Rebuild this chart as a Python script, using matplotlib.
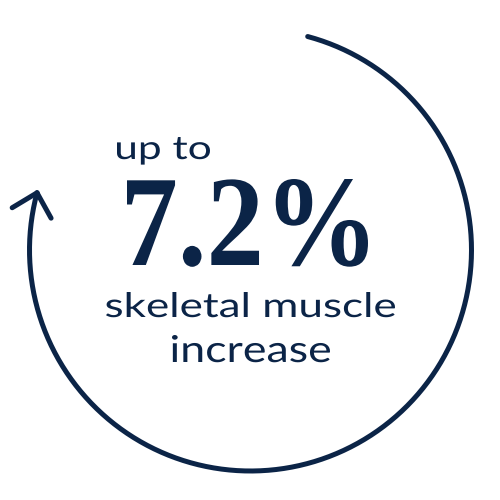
import numpy as np
import matplotlib.pyplot as plt
from matplotlib.textpath import TextPath
from matplotlib.patches import PathPatch
from matplotlib.font_manager import FontProperties
from matplotlib.transforms import Affine2D

# text content
top_label = "up to"
value_label = "7.2%"
bottom_lines = ["skeletal muscle", "increase"]

NAVY = "#0b2447"

# arc geometry (pixel space, y down)
cx, cy, radius = 250.5, 250, 221
start_deg, end_deg = 75, -195   # clockwise sweep, math angles


def fit_text(ax, s, prop, x0, x1, y_base, height):
    """Draw text s as a path, scaled so its ink spans x0..x1 and rises height px above baseline."""
    tp = TextPath((0, 0), s, size=100, prop=prop)
    ext = tp.get_extents()
    sx = (x1 - x0) / ext.width
    sy = height / ext.y1
    tr = Affine2D().translate(-ext.x0, 0).scale(sx, -sy).translate(x0, y_base)
    patch = PathPatch(tr.transform_path(tp), facecolor=NAVY, edgecolor="none")
    ax.add_patch(patch)


fig = plt.figure(figsize=(5, 5), dpi=100)
ax = fig.add_axes([0, 0, 1, 1])
ax.set_xlim(0, 500)
ax.set_ylim(500, 0)
ax.set_aspect("equal")
ax.axis("off")

# the circular arrow
t = np.radians(np.linspace(start_deg, end_deg, 400))
ax.plot(cx + radius * np.cos(t), cy - radius * np.sin(t), color=NAVY, lw=3.6,
        solid_capstyle="round")

te = np.radians(end_deg)
tip = np.array([cx + radius * np.cos(te), cy - radius * np.sin(te)])
fwd = np.array([np.sin(te), np.cos(te)])      # clockwise tangent, image coords
back = -fwd
for sgn in (1, -1):
    a = np.radians(44) * sgn
    rot = np.array([[np.cos(a), -np.sin(a)], [np.sin(a), np.cos(a)]])
    wing = tip + 29 * rot @ back
    ax.plot([tip[0], wing[0]], [tip[1], wing[1]], color=NAVY, lw=3.6,
            solid_capstyle="round")

sans = FontProperties(family="Lato", weight="normal")
serif = FontProperties(family="Liberation Serif", weight="bold")

fit_text(ax, top_label, sans, 117, 210, 159, 22)
fit_text(ax, value_label, serif, 127, 368, 265, 86)
fit_text(ax, bottom_lines[0], sans, 106, 395, 317, 25)
fit_text(ax, bottom_lines[1], sans, 172, 330, 362, 27)

fig.savefig("out.png", dpi=100, facecolor="white")
